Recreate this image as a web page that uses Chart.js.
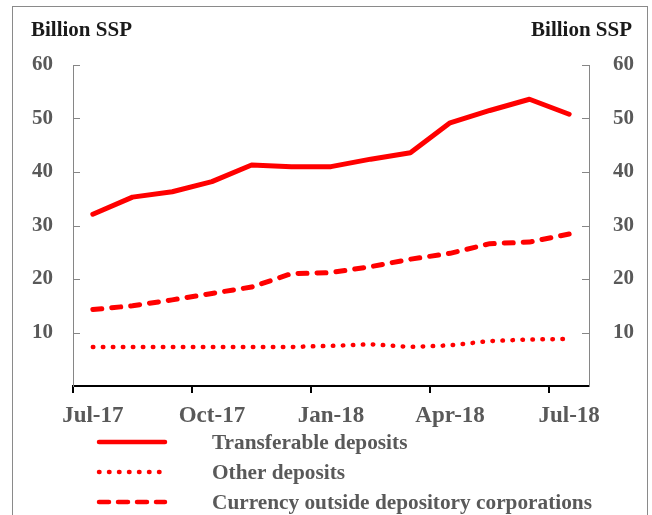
<!DOCTYPE html>
<html>
<head>
<meta charset="utf-8">
<script src="https://cdn.jsdelivr.net/npm/chart.js@4/dist/chart.umd.min.js"></script>
<style>
  html, body { margin: 0; padding: 0; background: #fff; }
  #wrap { position: relative; width: 652px; height: 515px; overflow: hidden; }
  #frame { position: absolute; left: 12px; top: 6px; width: 634px; height: 540px; border: 1px solid #8a8a8a; }
  #chart { position: absolute; left: 0; top: 0; }
</style>
</head>
<body>
<div id="wrap">
  <div id="frame"></div>
  <canvas id="chart" width="652" height="515"></canvas>
</div>
<script>
// months Jul-17 .. Jul-18
const months = ["Jul-17", "Aug-17", "Sep-17", "Oct-17", "Nov-17", "Dec-17", "Jan-18",
                "Feb-18", "Mar-18", "Apr-18", "May-18", "Jun-18", "Jul-18"];
const transferable = [32.1, 35.3, 36.3, 38.2, 41.3, 41.0, 41.0, 42.4, 43.6, 49.2, 51.5, 53.6, 50.8];
const otherDeposits = [7.3, 7.3, 7.3, 7.3, 7.3, 7.3, 7.5, 7.8, 7.3, 7.6, 8.4, 8.7, 8.8];
const currency = [14.3, 15.0, 16.1, 17.3, 18.5, 21.0, 21.2, 22.3, 23.7, 24.8, 26.6, 26.9, 28.4];
const yTicks = [10, 20, 30, 40, 50, 60];
const unitLabel = "Billion SSP";

const RED = "#ff0000";
const GREY_TXT = "#595959";
const GREY_AX = "#868686";
const SERIF = "'Liberation Serif', 'Times New Roman', serif";

const series = [
  { label: "Transferable deposits", data: transferable, dash: [], width: 5 },
  { label: "Other deposits", data: otherDeposits, dash: [0.5, 9.5], width: 4.5 },
  { label: "Currency outside depository corporations", data: currency, dash: [9, 10], width: 5 }
];

// inner tick marks on both value axes, unit labels and legend
const decorPlugin = {
  id: "decor",
  afterDraw(chart) {
    const ctx = chart.ctx;
    const yl = chart.scales.y, yr = chart.scales.y2;
    ctx.save();
    ctx.strokeStyle = GREY_AX;
    ctx.lineWidth = 1;
    yTicks.forEach(v => {
      const py = Math.round(yl.getPixelForValue(v)) + 0.5;
      ctx.beginPath();
      ctx.moveTo(yl.right, py); ctx.lineTo(yl.right + 7, py);
      ctx.moveTo(yr.left, py); ctx.lineTo(yr.left - 7, py);
      ctx.stroke();
    });

    ctx.fillStyle = "#1a1a1a";
    ctx.font = "bold 21px " + SERIF;
    ctx.textBaseline = "alphabetic";
    ctx.textAlign = "left";
    ctx.fillText(unitLabel, 31, 36);
    ctx.textAlign = "right";
    ctx.fillText(unitLabel, 632, 36);

    // legend
    ctx.font = "bold 21.3px " + SERIF;
    ctx.textAlign = "left";
    ctx.textBaseline = "middle";
    series.forEach((s, i) => {
      const ly = 442 + i * 30;
      ctx.strokeStyle = RED;
      ctx.lineWidth = 4.5;
      ctx.lineCap = "round";
      ctx.setLineDash(i === 2 ? [10, 9] : s.dash);
      ctx.beginPath();
      ctx.moveTo(99, ly); ctx.lineTo(165, ly);
      ctx.stroke();
      ctx.setLineDash([]);
      ctx.fillStyle = GREY_TXT;
      ctx.fillText(s.label, 212, ly + 1);
    });
    ctx.restore();
  }
};

new Chart(document.getElementById("chart"), {
  type: "line",
  data: {
    labels: months,
    datasets: series.map(s => ({
      label: s.label,
      data: s.data,
      borderColor: RED,
      borderWidth: s.width,
      borderDash: s.dash,
      borderCapStyle: "round",
      borderJoinStyle: "round",
      pointRadius: 0,
      tension: 0,
      fill: false
    }))
  },
  options: {
    responsive: false,
    animation: false,
    layout: { padding: { top: 65, left: 0, right: 0, bottom: 0 } },
    plugins: { legend: { display: false }, tooltip: { enabled: false } },
    scales: {
      x: {
        type: "category",
        offset: true,
        afterFit(scale) { scale.height = 129; },
        border: { display: true, color: "#000", width: 2 },
        grid: {
          offset: true,
          drawOnChartArea: false,
          drawTicks: true,
          tickLength: 7,
          lineWidth: 2,
          color: c => (c.index % 3 === 0 ? "#000" : "rgba(0,0,0,0)")
        },
        ticks: {
          autoSkip: false,
          maxRotation: 0,
          padding: 9,
          color: GREY_TXT,
          font: { family: SERIF, size: 23, weight: "bold" },
          callback: (v, i) => (i % 3 === 0 ? months[i] : "")
        }
      },
      y: {
        position: "left",
        min: 0, max: 60,
        afterFit(scale) { scale.width = 73; },
        border: { display: true, color: GREY_AX, width: 1 },
        grid: { drawOnChartArea: false, drawTicks: false },
        ticks: {
          stepSize: 10,
          padding: 20,
          color: GREY_TXT,
          font: { family: SERIF, size: 21, weight: "bold" },
          callback: v => (v === 0 ? "" : v)
        }
      },
      y2: {
        position: "right",
        min: 0, max: 60,
        afterFit(scale) { scale.width = 63; },
        border: { display: true, color: GREY_AX, width: 1 },
        grid: { drawOnChartArea: false, drawTicks: false },
        ticks: {
          stepSize: 10,
          padding: 24,
          color: GREY_TXT,
          font: { family: SERIF, size: 21, weight: "bold" },
          callback: v => (v === 0 ? "" : v)
        }
      }
    }
  },
  plugins: [decorPlugin]
});
</script>
</body>
</html>
